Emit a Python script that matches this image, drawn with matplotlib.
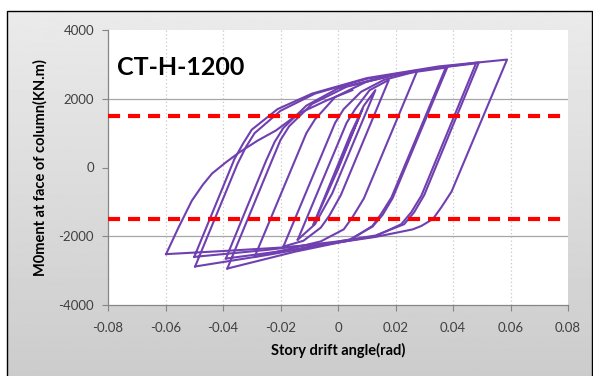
import numpy as np
import matplotlib.pyplot as plt
from matplotlib.patches import Rectangle

# digitised hysteresis cycles: story drift (rad) and moment (kN.m)
drift_cycles = [
    [0.0, 0.0042, 0.0085, 0.0, -0.0085],
    [-0.0085, 0.0045, 0.009, 0.013, -0.002, -0.008, -0.014],
    [-0.014, 0.0, 0.003, 0.006, 0.011, 0.0177, 0.001, -0.003, -0.006, -0.012, -0.019],
    [-0.019, -0.004, -0.001, 0.002, 0.008, 0.016, 0.0275, 0.009, 0.005, 0.002, -0.006, -0.016, -0.029],
    [-0.029, -0.014, -0.011, -0.008, -0.001, 0.01, 0.025, 0.0376, 0.0186, 0.015, 0.012, 0.004,
     -0.015, -0.0385],
    [-0.0385, -0.023, -0.020, -0.017, -0.009, 0.003, 0.02, 0.038, 0.019, 0.0155, 0.012, 0.004,
     -0.015, -0.039],
    [-0.039, -0.025, -0.022, -0.019, -0.011, 0.0, 0.02, 0.035, 0.048, 0.029, 0.0255, 0.022, 0.013,
     0.0, -0.025, -0.0497],
    [-0.0497, -0.035, -0.032, -0.029, -0.02, -0.008, 0.01, 0.03, 0.049, 0.030, 0.0265, 0.023, 0.013,
     0.0, -0.025, -0.050],
    [-0.050, -0.036, -0.033, -0.030, -0.021, -0.009, 0.01, 0.035, 0.0588, 0.0395, 0.036, 0.033,
     0.029, 0.026, 0.013, 0.0, -0.02, -0.04, -0.0598],
    [-0.0598, -0.0555, -0.0508, -0.047, -0.0438, -0.039, -0.0344, -0.028, -0.0216, -0.0136,
     -0.004, 0.005],
]
moment_cycles = [
    [0, 850, 1700, -50, -1650],
    [-1650, 1000, 1800, 2250, -750, -1650, -2100],
    [-2100, 700, 1300, 1700, 2250, 2550, -800, -1400, -1750, -2130, -2300],
    [-2300, 700, 1300, 1700, 2200, 2550, 2800, -900, -1450, -1800, -2150, -2350, -2600],
    [-2600, 400, 1000, 1400, 2050, 2500, 2790, 2930, -870, -1350, -1700, -2120, -2450, -2940],
    [-2940, 200, 800, 1200, 1850, 2350, 2700, 2910, -890, -1380, -1720, -2100, -2380, -2650],
    [-2650, 200, 750, 1150, 1800, 2300, 2710, 2900, 3030, -820, -1300, -1650, -2000, -2180,
     -2550, -2880],
    [-2880, 100, 600, 1000, 1650, 2150, 2580, 2850, 3060, -800, -1300, -1650, -1980, -2150,
     -2400, -2600],
    [-2600, 250, 700, 1100, 1700, 2150, 2600, 2940, 3140, -700, -1150, -1500, -1700, -1800,
     -2020, -2180, -2330, -2430, -2520],
    [-2520, -1750, -960, -500, -175, 150, 436, 780, 1076, 1570, 1950, 2250],
]
limit_moments = [1500, -1500]

x_ticks = [-0.08, -0.06, -0.04, -0.02, 0, 0.02, 0.04, 0.06, 0.08]
x_labels = ['-0.08', '-0.06', '-0.04', '-0.02', '0', '0.02', '0.04', '0.06', '0.08']
y_ticks = [-4000, -2000, 0, 2000, 4000]
y_labels = ['-4000', '-2000', '0', '2000', '4000']

plt.rcParams['font.family'] = ['Lato', 'DejaVu Sans']

W, H = 593, 376
fig = plt.figure(figsize=(W / 100, H / 100), dpi=100)
fig.patch.set_facecolor('white')

# grey chart area with a soft vertical gradient
bg = fig.add_axes([7 / W, 0, (592 - 7) / W, (H - 11) / H])
grad = np.linspace(0.92, 0.80, 200).reshape(-1, 1)
bg.imshow(grad, aspect='auto', cmap='gray', vmin=0, vmax=1, extent=[0, 1, 0, 1])
bg.set_axis_off()
fig.patches.append(Rectangle((7 / W, -0.01), (592 - 7) / W, (H - 11) / H + 0.01,
                             transform=fig.transFigure, fill=False,
                             edgecolor='black', linewidth=1.0))

ax = fig.add_axes([108 / W, 71 / H, 460 / W, 275 / H])
ax.set_facecolor('white')

for xs, ys in zip(drift_cycles, moment_cycles):
    ax.plot(xs, ys, color='#7040B0', linewidth=1.5, solid_joinstyle='round')

for m in limit_moments:
    ax.axhline(m, color='red', linewidth=3.0, linestyle=(0, (2.9, 1.9)), zorder=3)

for m in [2000, -2000]:
    ax.axhline(m, color='#A6A6A6', linewidth=0.9, zorder=0)
for xv in x_ticks[1:-1]:
    ax.axvline(xv, color='#C8C8C8', linewidth=0.9, linestyle=(0, (1, 2)), zorder=0)

ax.set_xlim(-0.08, 0.08)
ax.set_ylim(-4000, 4000)
ax.set_xticks(x_ticks)
ax.set_xticklabels(x_labels)
ax.set_yticks(y_ticks)
ax.set_yticklabels(y_labels)
ax.tick_params(axis='both', direction='out', length=4, width=0.8, color='#868686',
               labelsize=9.5, labelcolor='#404040')
ax.tick_params(axis='x', pad=8)
ax.tick_params(axis='y', pad=6)
for side in ['top', 'right']:
    ax.spines[side].set_visible(False)
for side in ['left', 'bottom']:
    ax.spines[side].set_color('#868686')
    ax.spines[side].set_linewidth(0.9)

ax.set_xlabel('Story drift angle(rad)', fontsize=10.5, fontweight='bold', labelpad=7)
ax.set_ylabel('M0ment at face of column(KN.m)', fontsize=10.5, fontweight='bold', labelpad=8)

ax.text(-0.0769, 2680, 'CT-H-1200', fontsize=18, fontweight='bold', color='black',
        ha='left', va='baseline')

fig.savefig('out.png', dpi=100)
